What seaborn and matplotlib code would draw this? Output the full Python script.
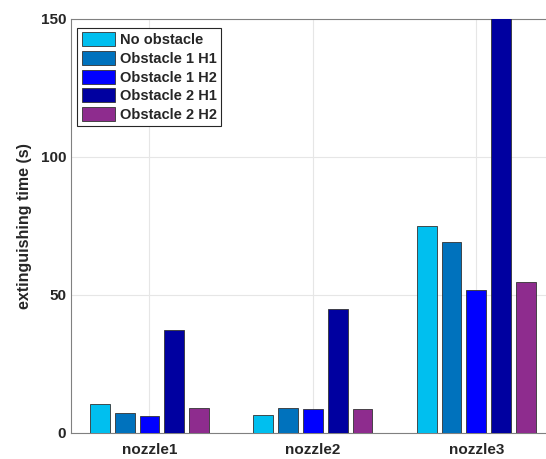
import matplotlib
matplotlib.use("Agg")
import matplotlib.pyplot as plt
import seaborn as sns
import pandas as pd

categories = ["nozzle1", "nozzle2", "nozzle3"]
series_names = ["No obstacle", "Obstacle 1 H1", "Obstacle 1 H2", "Obstacle 2 H1", "Obstacle 2 H2"]
no_obstacle = [10.5, 6.5, 75.0]
obstacle1_h1 = [7.1, 9.0, 69.1]
obstacle1_h2 = [6.1, 8.6, 51.7]
obstacle2_h1 = [37.2, 45.0, 160.0]
obstacle2_h2 = [9.0, 8.6, 54.7]
colors = ["#00BFEF", "#0072BD", "#0000FF", "#0000A0", "#8E2C8E"]
yticks = [0, 50, 100, 150]

values = [no_obstacle, obstacle1_h1, obstacle1_h2, obstacle2_h1, obstacle2_h2]
rows = []
for name, vals in zip(series_names, values):
    for c, v in zip(categories, vals):
        rows.append({"nozzle": c, "series": name, "time": v})
df = pd.DataFrame(rows)

sns.set_style("white")
plt.rcParams["font.family"] = ["Liberation Sans", "DejaVu Sans"]
plt.rcParams["font.weight"] = "bold"

fig = plt.figure(figsize=(5.46, 4.59), dpi=100)
ax = fig.add_axes([71/546, 26/459, (558-71)/546, (433-19)/459])

sns.barplot(data=df, x="nozzle", y="time", hue="series", hue_order=series_names,
            palette=colors, saturation=1, width=0.76, gap=0.2, edgecolor="#333333", linewidth=0.6,
            ax=ax, errorbar=None, zorder=3)

ax.set_ylim(0, 150)
ax.set_xlim(-0.48, 2.5)
ax.set_yticks(yticks)
ax.set_yticklabels([str(t) for t in yticks])
ax.grid(True, color="#E6E6E6", linewidth=0.8, zorder=0)
ax.set_axisbelow(True)
ax.set_xlabel("")
ax.set_ylabel("extinguishing time (s)", fontsize=11.5, fontweight="bold", color="#262626", labelpad=6)
ax.tick_params(axis="both", labelsize=11, colors="#262626", direction="in", length=3, width=0.6)
ax.tick_params(axis="x", pad=7)
for lab in ax.get_xticklabels() + ax.get_yticklabels():
    lab.set_fontweight("bold")
for s in ax.spines.values():
    s.set_color("#808080")
    s.set_linewidth(0.8)

leg = ax.legend(loc="upper left", bbox_to_anchor=(0.013, 0.978),
                prop={"weight": "bold", "size": 10.5},
                handlelength=2.3, handleheight=1.1, handletextpad=0.3,
                labelspacing=0.25, borderpad=0.3, borderaxespad=0.0,
                fancybox=False, framealpha=1, edgecolor="#262626")
leg.get_frame().set_linewidth(0.8)

fig.savefig("out.png", dpi=100)
